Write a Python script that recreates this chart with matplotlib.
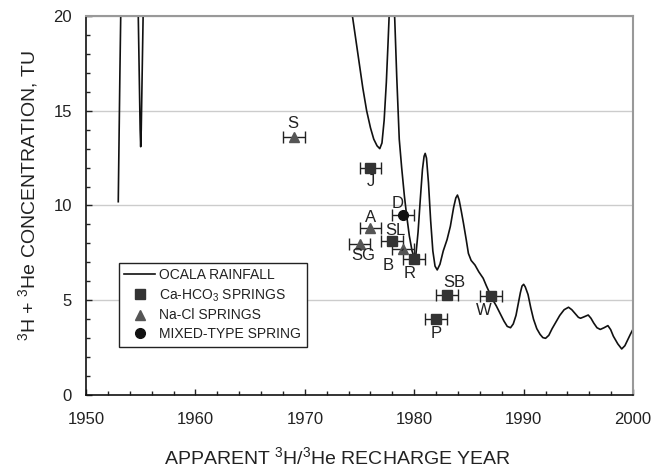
import numpy as np
import matplotlib
matplotlib.use("Agg")
from matplotlib import pyplot as plt
from matplotlib.ticker import MultipleLocator

plt.rcParams['font.family'] = ['Liberation Sans', 'DejaVu Sans']
plt.rcParams['mathtext.fontset'] = 'custom'
plt.rcParams['mathtext.rm'] = 'Liberation Sans'
plt.rcParams['mathtext.it'] = 'Liberation Sans:italic'
plt.rcParams['mathtext.bf'] = 'Liberation Sans:bold'

# Ocala rainfall tritium curve (values above 20 run off the top of the chart)
rain_year = [1952.95, 1953.0, 1953.1, 1953.2, 1953.6, 1954.5, 1954.75, 1954.85,
             1954.95, 1955.0, 1955.05, 1955.15, 1955.25, 1955.6, 1960.0, 1965.0,
             1970.0, 1974.0,
             1974.35, 1974.7, 1975.0, 1975.3, 1975.65, 1976.0, 1976.3, 1976.6,
             1976.85, 1977.05, 1977.25, 1977.45, 1977.6, 1977.72, 1977.85, 1978.0,
             1978.12, 1978.22, 1978.4, 1978.63, 1978.85, 1979.1, 1979.3, 1979.55,
             1979.8, 1980.0, 1980.15, 1980.35, 1980.55, 1980.75, 1980.9, 1981.0,
             1981.12, 1981.3, 1981.5, 1981.7, 1981.9, 1982.1, 1982.35, 1982.65,
             1983.0, 1983.3, 1983.6, 1983.8, 1983.95, 1984.1, 1984.3, 1984.5,
             1984.75, 1984.95, 1985.2, 1985.55, 1985.9, 1986.3, 1986.6, 1986.9,
             1987.2, 1987.5, 1987.85, 1988.2, 1988.5, 1988.8, 1989.05, 1989.3,
             1989.5, 1989.7, 1989.85, 1990.0, 1990.15, 1990.4, 1990.65, 1990.9,
             1991.2, 1991.5, 1991.75, 1992.0, 1992.3, 1992.6, 1993.0, 1993.3,
             1993.7, 1994.1, 1994.4, 1994.7, 1995.0, 1995.2, 1995.5, 1995.9,
             1996.15, 1996.4, 1996.7, 1997.0, 1997.35, 1997.7, 1997.95, 1998.2,
             1998.6, 1998.96, 1999.25, 1999.5, 1999.75, 2000.0]
rain_tu = [10.2, 12.5, 17.0, 21.0, 30.0, 30.0, 21.0, 17.5,
           14.0, 13.1, 14.0, 17.5, 21.0, 30.0, 40.0, 40.0,
           40.0, 24.0,
           20.0, 18.6, 17.4, 16.2, 15.0, 14.1, 13.5, 13.15,
           13.0, 13.3, 14.5, 16.5, 18.5, 20.2, 21.5, 21.8,
           21.0, 19.8, 16.8, 13.5, 12.0, 10.5, 9.5, 8.4,
           7.6, 7.25, 7.4, 8.6, 10.3, 11.9, 12.6, 12.75,
           12.5, 11.2, 9.2, 7.6, 6.8, 6.6, 6.9, 7.6,
           8.2, 8.9, 9.9, 10.4, 10.55, 10.3, 9.7, 9.06,
           8.2, 7.47, 7.1, 6.86, 6.5, 6.16, 5.75, 5.37,
           5.0, 4.7, 4.3, 3.9, 3.62, 3.55, 3.75, 4.2,
           4.8, 5.4, 5.75, 5.84, 5.7, 5.3, 4.6, 4.0,
           3.5, 3.2, 3.03, 2.99, 3.15, 3.5, 3.9, 4.2,
           4.5, 4.63, 4.5, 4.3, 4.1, 4.05, 4.12, 4.22,
           4.05, 3.8, 3.55, 3.46, 3.55, 3.66, 3.45, 3.1,
           2.7, 2.43, 2.6, 2.9, 3.2, 3.48]

# springs: name, year, TU, label offset (points)
ca_names = ["J", "SL", "R", "SB", "W", "P"]
ca_year = [1976, 1978, 1980, 1983, 1987, 1982]
ca_tu = [12.0, 8.1, 7.2, 5.3, 5.2, 4.0]
ca_off = [(0, -10), (2, 8), (-3, -11), (5, 9), (-5, -10), (0, -10)]

na_names = ["S", "A", "SG", "B"]
na_year = [1969, 1976, 1975, 1979]
na_tu = [13.6, 8.8, 7.95, 7.7]
na_off = [(-1, 10), (0, 8), (3, -8), (-11, -12)]

mx_names = ["D"]
mx_year = [1979]
mx_tu = [9.5]
mx_off = [(-4, 8)]

year_err = 1.0

fig = plt.figure(figsize=(6.65, 4.69), dpi=100)
ax = fig.add_axes([0.1293, 0.1578, 0.8227, 0.8081])

ax.set_xlim(1950, 2000)
ax.set_ylim(0, 20)
ax.yaxis.grid(True, color='#cccccc', lw=1)
ax.set_axisbelow(True)

line, = ax.plot(rain_year, rain_tu, color='#111111', lw=1.2, label='OCALA RAINFALL')

eb = dict(fmt='none', ecolor='#222222', elinewidth=1, capsize=4, capthick=1)
ax.errorbar(ca_year, ca_tu, xerr=year_err, **eb)
ax.errorbar(na_year, na_tu, xerr=year_err, **eb)
ax.errorbar(mx_year, mx_tu, xerr=year_err, **eb)
sq = ax.plot(ca_year, ca_tu, 's', color='#333333', ms=7, ls='none',
             label='Ca-HCO$_3$ SPRINGS')[0]
tr = ax.plot(na_year, na_tu, '^', color='#555555', ms=7, ls='none',
             label='Na-Cl SPRINGS')[0]
ci = ax.plot(mx_year, mx_tu, 'o', color='#111111', ms=7, ls='none',
             label='MIXED-TYPE SPRING')[0]

for names, xs, ys, offs in [(ca_names, ca_year, ca_tu, ca_off),
                            (na_names, na_year, na_tu, na_off),
                            (mx_names, mx_year, mx_tu, mx_off)]:
    for n, x, y, o in zip(names, xs, ys, offs):
        if n == "B":
            ax.annotate(n, (x, y), xytext=o, textcoords='offset points',
                        ha='center', va='center', fontsize=12, color='#222222',
                        arrowprops=dict(arrowstyle='-', color='#222222', lw=0.8,
                                        shrinkA=6, shrinkB=2))
        else:
            ax.annotate(n, (x, y), xytext=o, textcoords='offset points',
                        ha='center', va='center', fontsize=12, color='#222222')

ax.xaxis.set_major_locator(MultipleLocator(10))
ax.xaxis.set_minor_locator(MultipleLocator(2))
ax.yaxis.set_major_locator(MultipleLocator(5))
ax.yaxis.set_minor_locator(MultipleLocator(1))
ax.tick_params(which='both', direction='in', color='#222222', labelsize=12,
               labelcolor='#222222')
ax.tick_params(which='major', length=4, width=1)
ax.tick_params(which='minor', length=3, width=1)
ax.tick_params(axis='x', pad=12)
ax.tick_params(axis='y', pad=10)

for s in ['left', 'bottom']:
    ax.spines[s].set_color('#111111')
    ax.spines[s].set_linewidth(1.2)
for s in ['top', 'right']:
    ax.spines[s].set_color('#999999')
    ax.spines[s].set_linewidth(1.5)

ax.set_xlabel('APPARENT $^{3}$H/$^{3}$He RECHARGE YEAR', fontsize=14,
              color='#222222', labelpad=8)
ax.xaxis.set_label_coords(0.46, -0.135)
ax.set_ylabel('$^{3}$H + $^{3}$He CONCENTRATION, TU', fontsize=14,
              color='#222222')
ax.yaxis.set_label_coords(-0.084, 0.525)

leg = ax.legend(handles=[line, sq, tr, ci], loc='lower left',
                bbox_to_anchor=(0.06, 0.127), fontsize=10, frameon=True,
                fancybox=False, edgecolor='#222222', framealpha=1,
                handlelength=2.2, handletextpad=0.3, borderpad=0.4,
                labelspacing=0.35, borderaxespad=0)
leg.get_frame().set_linewidth(1)
for t in leg.get_texts():
    t.set_color('#222222')

fig.savefig('out.png', dpi=100)
